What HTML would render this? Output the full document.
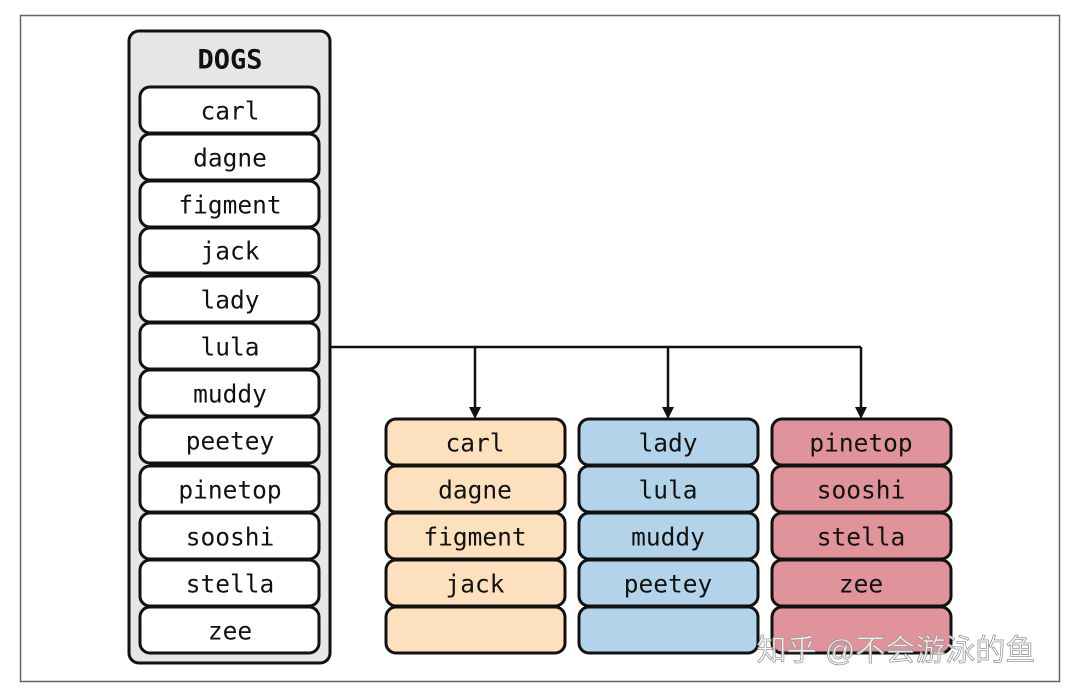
<!DOCTYPE html>
<html><head><meta charset="utf-8"><style>
body{margin:0;background:#fff}
svg text{font-family:"DejaVu Sans Mono","Liberation Mono",monospace;font-size:24.5px;text-anchor:middle;dominant-baseline:central;fill:#111}
</style></head><body>
<svg width="1071" height="695" xmlns="http://www.w3.org/2000/svg">
<rect x="20.5" y="15.5" width="1039" height="666" fill="#fff" stroke="#666" stroke-width="1.5"/>
<rect x="129" y="31" width="201" height="632" rx="10" fill="#e6e6e6" stroke="#111" stroke-width="3"/>
<text x="230" y="60" style="font-family:'DejaVu Sans Mono',monospace;font-weight:bold;font-size:27px">DOGS</text>
<g stroke="#111" stroke-width="3">
<rect x="140" y="87" width="179" height="46" rx="10" fill="#fff"/>
<rect x="140" y="134" width="179" height="46" rx="10" fill="#fff"/>
<rect x="140" y="181" width="179" height="46" rx="10" fill="#fff"/>
<rect x="140" y="228" width="179" height="45" rx="10" fill="#fff"/>
<rect x="140" y="276" width="179" height="46" rx="10" fill="#fff"/>
<rect x="140" y="323" width="179" height="46" rx="10" fill="#fff"/>
<rect x="140" y="370" width="179" height="46" rx="10" fill="#fff"/>
<rect x="140" y="417" width="179" height="46" rx="10" fill="#fff"/>
<rect x="140" y="466" width="179" height="46" rx="10" fill="#fff"/>
<rect x="140" y="513" width="179" height="46" rx="10" fill="#fff"/>
<rect x="140" y="560" width="179" height="46" rx="10" fill="#fff"/>
<rect x="140" y="607" width="179" height="46" rx="10" fill="#fff"/>
</g>
<text x="230" y="111">carl</text><text x="230" y="158">dagne</text><text x="230" y="205">figment</text><text x="230" y="251">jack</text>
<text x="230" y="300">lady</text><text x="230" y="347">lula</text><text x="230" y="394">muddy</text><text x="230" y="441">peetey</text>
<text x="230" y="490">pinetop</text><text x="230" y="537">sooshi</text><text x="230" y="584">stella</text><text x="230" y="631">zee</text>

<g stroke="#111" stroke-width="2.5" fill="none">
<path d="M330 347H861M475 347V410M668 347V410M861 347V410"/>
</g>
<g fill="#111">
<path d="M469 407h12l-6 12z"/><path d="M662 407h12l-6 12z"/><path d="M855 407h12l-6 12z"/>
</g>

<g stroke="#111" stroke-width="3" fill="#fde0bd">
<rect x="386" y="419" width="179" height="46" rx="10"/><rect x="386" y="466" width="179" height="46" rx="10"/><rect x="386" y="513" width="179" height="46" rx="10"/><rect x="386" y="560" width="179" height="46" rx="10"/><rect x="386" y="607" width="179" height="46" rx="10"/>
</g>
<g stroke="#111" stroke-width="3" fill="#b3d3ea">
<rect x="579" y="419" width="179" height="46" rx="10"/><rect x="579" y="466" width="179" height="46" rx="10"/><rect x="579" y="513" width="179" height="46" rx="10"/><rect x="579" y="560" width="179" height="46" rx="10"/><rect x="579" y="607" width="179" height="46" rx="10"/>
</g>
<g stroke="#111" stroke-width="3" fill="#e0939a">
<rect x="772" y="419" width="179" height="46" rx="10"/><rect x="772" y="466" width="179" height="46" rx="10"/><rect x="772" y="513" width="179" height="46" rx="10"/><rect x="772" y="560" width="179" height="46" rx="10"/><rect x="772" y="607" width="179" height="46" rx="10"/>
</g>
<text x="475" y="443">carl</text><text x="475" y="490">dagne</text><text x="475" y="537">figment</text><text x="475" y="584">jack</text>
<text x="668" y="443">lady</text><text x="668" y="490">lula</text><text x="668" y="537">muddy</text><text x="668" y="584">peetey</text>
<text x="861" y="443">pinetop</text><text x="861" y="490">sooshi</text><text x="861" y="537">stella</text><text x="861" y="584">zee</text>
<text x="896" y="651" style="font-family:'Liberation Sans','Noto Sans CJK SC',sans-serif;font-size:30px;fill:#fff;fill-opacity:0.85;stroke:#999;stroke-width:0.8">知乎 @不会游泳的鱼</text>
</svg>
</body></html>
